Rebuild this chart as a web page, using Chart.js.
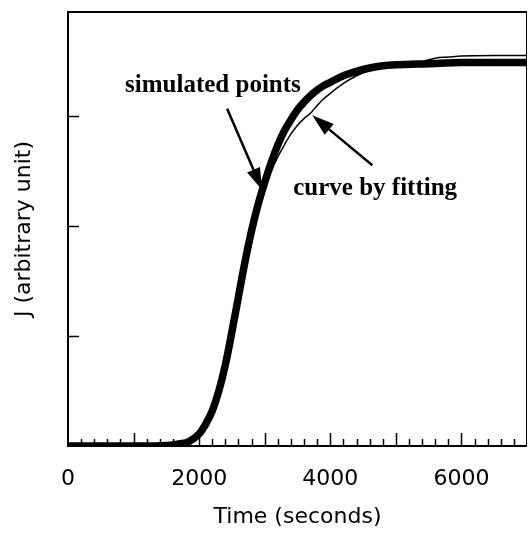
<!DOCTYPE html>
<html><head><meta charset="utf-8">
<script src="https://cdn.jsdelivr.net/npm/chart.js@4.4.1/dist/chart.umd.min.js"></script>
<style>html,body{margin:0;padding:0;background:#fff;}</style>
</head><body>
<canvas id="c" width="528" height="538"></canvas>
<script>
// ---- data ----
const simTimes = [0, 400, 800, 1200, 1600, 1700, 1800, 1900, 2000, 2100, 2200, 2300, 2400, 2500, 2600, 2700, 2800, 2900, 3000, 3100, 3200, 3300, 3400, 3500, 3600, 3700, 3800, 3900, 4000, 4200, 4400, 4600, 4800, 5000, 5500, 6000, 6500, 7000];
const simulated = [0, 0, 0, 0, 0.01, 0.02, 0.03, 0.06, 0.11, 0.2, 0.32, 0.5, 0.74, 1.04, 1.36, 1.68, 1.96, 2.2, 2.4, 2.58, 2.74, 2.87, 2.97, 3.06, 3.13, 3.19, 3.24, 3.28, 3.31, 3.37, 3.41, 3.44, 3.46, 3.47, 3.48, 3.49, 3.49, 3.49];
const fitTimes = [0, 600, 1200, 1800, 1900, 2000, 2100, 2200, 2300, 2400, 2500, 2600, 2700, 2800, 2900, 3000, 3100, 3200, 3300, 3400, 3500, 3600, 3700, 3800, 3900, 4000, 4200, 4400, 4600, 4800, 5000, 5200, 5400, 5600, 5800, 6000, 6500, 7000];
const fitted = [0, 0, 0, 0, 0.04, 0.09, 0.18, 0.31, 0.5, 0.74, 1.04, 1.36, 1.66, 1.93, 2.15, 2.34, 2.5, 2.63, 2.74, 2.84, 2.92, 2.98, 3.03, 3.1, 3.16, 3.21, 3.3, 3.37, 3.42, 3.45, 3.47, 3.48, 3.5, 3.53, 3.54, 3.55, 3.555, 3.555];
const xTickLabels = ['0', '2000', '4000', '6000'];
const xMinorTicks = [200, 400, 600, 800, 1000, 1200, 1400, 1600, 1800, 2000, 2200, 2400, 2600, 2800, 3000, 3200, 3400, 3600, 3800, 4000, 4200, 4400, 4600, 4800, 5000, 5200, 5400, 5600, 5800, 6000, 6200, 6400, 6600, 6800];
const yTicks = [1, 2, 3];

// annotations (data coordinates)
const labels = [
  {text: 'simulated points', x: 870, y: 3.22},
  {text: 'curve by fitting', x: 3435, y: 2.28}
];
const arrows = [
  {from: [2427, 3.07], to: [2962, 2.33]},
  {from: [4641, 2.555], to: [3725, 3.01]}
];

const decor = {
  id: 'decor',
  beforeDatasetsDraw(chart) {
    const {ctx, chartArea: a, scales: {x, y}} = chart;
    ctx.save();
    ctx.strokeStyle = '#000';
    ctx.lineWidth = 1.5;
    xMinorTicks.forEach(v => {
      const px = Math.round(x.getPixelForValue(v)) + 0.5;
      const len = (v % 1000 === 0) ? 13 : 7;
      ctx.beginPath(); ctx.moveTo(px, a.bottom); ctx.lineTo(px, a.bottom - len); ctx.stroke();
    });
    yTicks.forEach(v => {
      const py = Math.round(y.getPixelForValue(v)) + 0.5;
      ctx.beginPath(); ctx.moveTo(a.left, py); ctx.lineTo(a.left + 11, py); ctx.stroke();
    });
    ctx.lineWidth = 2;
    ctx.beginPath();
    ctx.moveTo(a.right, a.top); ctx.lineTo(a.left, a.top); ctx.lineTo(a.left, a.bottom); ctx.lineTo(a.right, a.bottom);
    ctx.stroke();
    ctx.lineWidth = 1;
    ctx.beginPath(); ctx.moveTo(a.right - 0.5, a.top); ctx.lineTo(a.right - 0.5, a.bottom); ctx.stroke();
    ctx.restore();
  },
  afterDatasetsDraw(chart) {
    const {ctx, scales: {x, y}} = chart;
    ctx.save();
    ctx.fillStyle = '#000';
    ctx.strokeStyle = '#000';
    ctx.font = 'bold 25px "Liberation Serif", "Times New Roman", serif';
    ctx.textBaseline = 'alphabetic';
    ctx.textAlign = 'left';
    labels.forEach(l => ctx.fillText(l.text, x.getPixelForValue(l.x), y.getPixelForValue(l.y)));
    arrows.forEach(ar => {
      const x0 = x.getPixelForValue(ar.from[0]), y0 = y.getPixelForValue(ar.from[1]);
      const x1 = x.getPixelForValue(ar.to[0]), y1 = y.getPixelForValue(ar.to[1]);
      const ang = Math.atan2(y1 - y0, x1 - x0);
      const hl = 22, hw = 7;
      const bx = x1 - hl * Math.cos(ang), by = y1 - hl * Math.sin(ang);
      ctx.lineWidth = 2.5;
      ctx.beginPath(); ctx.moveTo(x0, y0); ctx.lineTo(bx, by); ctx.stroke();
      ctx.beginPath();
      ctx.moveTo(x1, y1);
      ctx.lineTo(bx + hw * Math.sin(ang), by - hw * Math.cos(ang));
      ctx.lineTo(bx - hw * Math.sin(ang), by + hw * Math.cos(ang));
      ctx.closePath(); ctx.fill();
    });
    ctx.restore();
  }
};

const toPts = (xs, ys) => xs.map((t, i) => ({x: t, y: ys[i]}));
const sansFont = {family: '"DejaVu Sans", sans-serif', size: 22};

new Chart(document.getElementById('c'), {
  type: 'line',
  data: {
    datasets: [
      {label: 'simulated points', data: toPts(simTimes, simulated), borderColor: '#000', borderWidth: 7.5, pointRadius: 0, cubicInterpolationMode: 'monotone', order: 1},
      {label: 'curve by fitting', data: toPts(fitTimes, fitted), borderColor: '#000', borderWidth: 1.5, pointRadius: 0, cubicInterpolationMode: 'monotone', order: 2}
    ]
  },
  options: {
    responsive: false,
    animation: false,
    layout: {padding: {left: 0, right: 1, top: 12, bottom: 0}},
    plugins: {legend: {display: false}, tooltip: {enabled: false}},
    scales: {
      x: {
        type: 'linear', min: 0, max: 7000,
        grid: {display: false, drawTicks: false},
        border: {display: false},
        afterBuildTicks: s => { s.ticks = xTickLabels.map(l => ({value: Number(l)})); },
        ticks: {
          autoSkip: false, maxRotation: 0, padding: 20, color: '#000',
          font: sansFont,
          callback: v => String(v)
        },
        title: {display: true, text: 'Time (seconds)', color: '#000', font: sansFont, padding: {top: 0, bottom: 8}},
        afterFit: s => { s.height = 92; s.paddingLeft = 0; s.paddingRight = 0; }
      },
      y: {
        min: 0, max: 3.95,
        grid: {display: false, drawTicks: false},
        border: {display: false},
        ticks: {display: false},
        title: {display: true, text: 'J (arbitrary unit)', color: '#000', font: sansFont, padding: {top: 11, bottom: 0}},
        afterFit: s => { s.width = 68; }
      }
    }
  },
  plugins: [decor]
});
</script>
</body></html>
